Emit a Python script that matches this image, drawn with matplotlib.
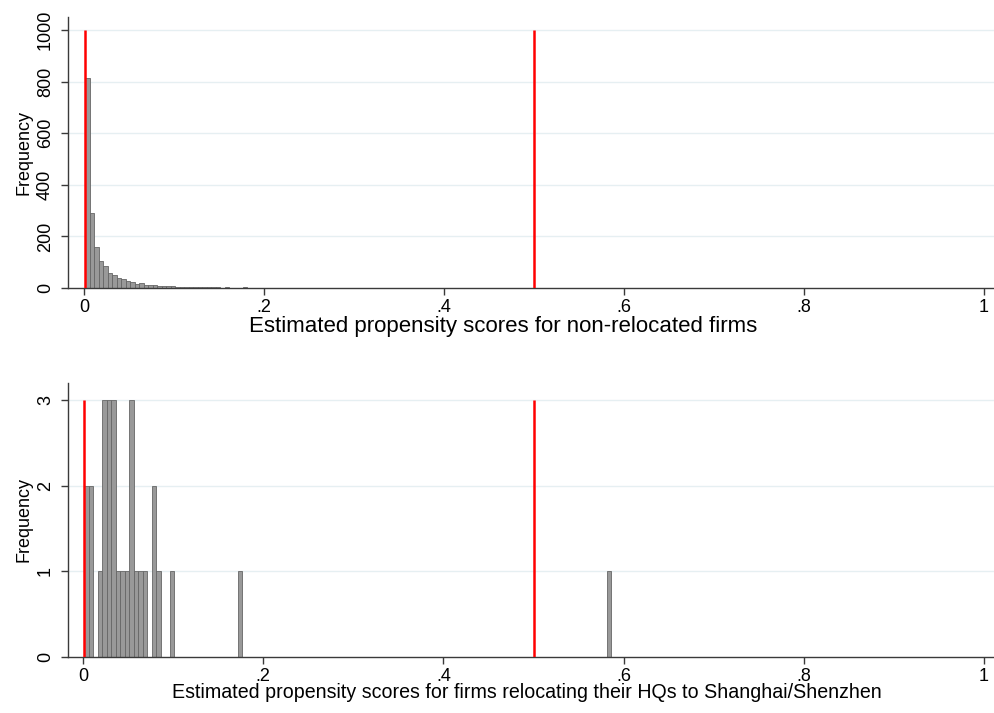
import matplotlib
matplotlib.use("Agg")
import matplotlib.pyplot as plt
import numpy as np

# ---------------- data ----------------
BIN_START = 0.0015
BIN_WIDTH = 0.005

# top panel: non-relocated firms, counts per bin (bin index -> count)
top_bin_index = list(range(0, 36)) + [37, 39, 41, 45, 52, 60]
top_counts = [812, 292, 158, 105, 85, 59, 50, 39, 34, 28,
              23, 16, 18, 13, 13, 10, 8, 7, 6, 6,
              5, 4, 4, 3, 3, 3, 2, 2, 2, 2,
              1, 2, 1, 1, 1, 2, 1, 1, 1, 1, 1, 1]

# bottom panel: firms relocating HQs to Shanghai/Shenzhen
bot_bin_index = [0, 1, 3, 4, 5, 6, 7, 8, 9, 10, 11, 12, 13, 15, 16, 19, 34, 116]
bot_counts = [2, 2, 1, 3, 3, 3, 1, 1, 1, 3, 1, 1, 1, 2, 1, 1, 1, 1]

ref_lines = [0.001, 0.5]

x_ticks = [0, 0.2, 0.4, 0.6, 0.8, 1.0]
x_ticklabels = ["0", ".2", ".4", ".6", ".8", "1"]
top_yticks = [0, 200, 400, 600, 800, 1000]
bot_yticks = [0, 1, 2, 3]

top_title = "Estimated propensity scores for non-relocated firms"
bot_title = "Estimated propensity scores for firms relocating their HQs to Shanghai/Shenzhen"

# ---------------- style ----------------
plt.rcParams['font.family'] = ['Liberation Sans', 'DejaVu Sans']
W, H = 994, 713
fig = plt.figure(figsize=(W / 100, H / 100), dpi=100)

BAR_FACE = '#999999'
BAR_EDGE = '#666666'
GRID = '#e6eff2'
AX_COL = '#3a3a3a'


def px_rect(l, t, r, b):
    return [l / W, 1 - b / H, (r - l) / W, (b - t) / H]


def panel(rect, idx, counts, yticks, ylim, ymax_line, title, title_fs,
          title_cx_px, title_y_px, xl):
    ax = fig.add_axes(rect)
    lefts = [BIN_START + k * BIN_WIDTH for k in idx]
    ax.bar(lefts, counts, width=BIN_WIDTH, align='edge',
           color=BAR_FACE, edgecolor=BAR_EDGE, linewidth=0.6, zorder=2)
    for v in ref_lines:
        ax.plot([v, v], [0, ymax_line], color='#ff0000', lw=1.8, zorder=3,
                solid_capstyle='butt')
    ax.set_xlim(xl)
    ax.set_ylim(ylim)
    ax.set_yticks(yticks)
    ax.set_yticklabels([str(t) for t in yticks], rotation=90, va='center',
                       fontsize=13)
    ax.set_xticks(x_ticks)
    ax.set_xticklabels(x_ticklabels, fontsize=13)
    for t in yticks[1:]:
        ax.axhline(t, color=GRID, lw=1.0, zorder=1)
    for s in ['top', 'right']:
        ax.spines[s].set_visible(False)
    for s in ['left', 'bottom']:
        ax.spines[s].set_color(AX_COL)
        ax.spines[s].set_linewidth(1.0)
    ax.tick_params(axis='both', direction='out', length=5, width=1,
                   color=AX_COL, labelcolor='black', pad=3)
    ax.tick_params(axis='y', pad=5)
    ax.set_ylabel("Frequency", fontsize=13, labelpad=3)
    fig.text(title_cx_px / W, 1 - title_y_px / H, title, fontsize=title_fs,
             ha='center', va='center')
    return ax


# top panel: spine left x=68, x=0 at 84, x=1 at 984, y=0 at 288
x0_px, x1_px = 84, 984
ppu = x1_px - x0_px
xl_top = ((68 - x0_px) / ppu, (994 - x0_px) / ppu)
panel(px_rect(68, 17, 994, 288), top_bin_index, top_counts, top_yticks,
      (0, 1050), 1000, top_title, 16, 503, 327, xl_top)

x0b = 83
ppub = 984 - x0b
xl_bot = ((68 - x0b) / ppub, (994 - x0b) / ppub)
panel(px_rect(68, 383, 994, 657), bot_bin_index, bot_counts, bot_yticks,
      (0, 3.2), 3, bot_title, 14.1, 527, 693, xl_bot)

fig.savefig("out.png", dpi=100, facecolor='white')
